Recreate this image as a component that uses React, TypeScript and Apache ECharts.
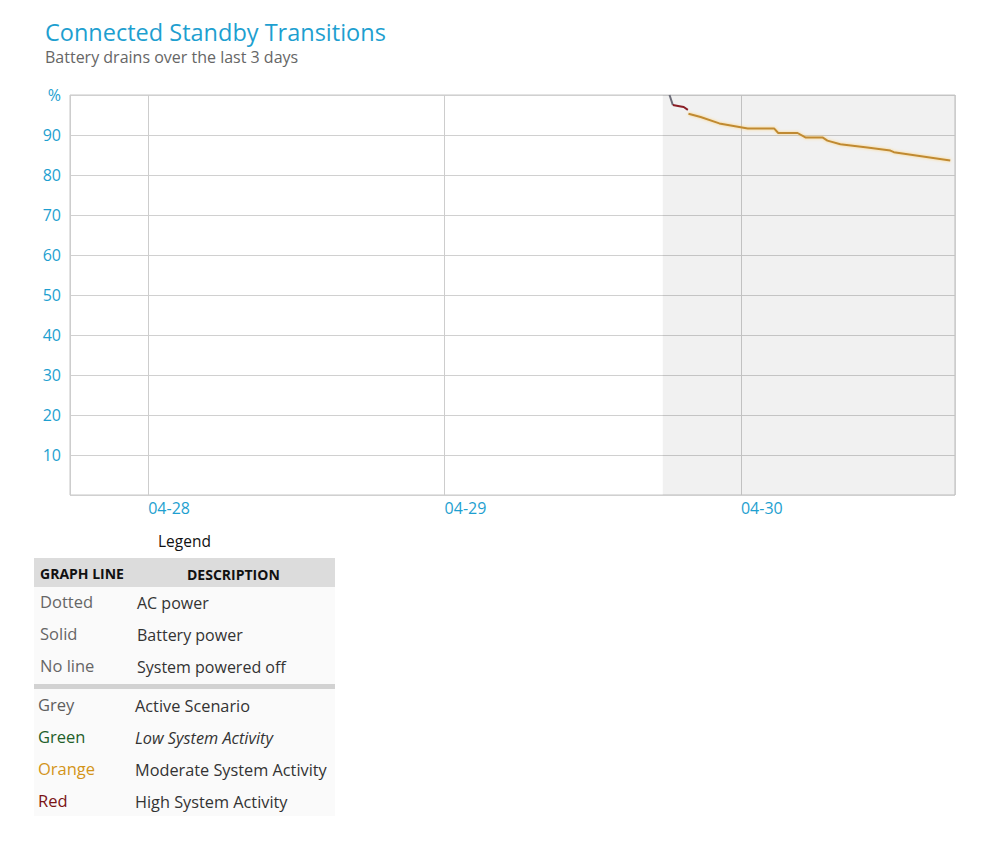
import React, { useEffect, useRef } from "react";
import * as echarts from "echarts";

const TITLE = "Connected Standby Transitions";
const SUBTITLE = "Battery drains over the last 3 days";

const X_MIN = "2014-04-27 17:40";
const X_MAX = "2014-04-30 17:20";
const SHADE_START = "2014-04-29 17:40";

const Y_TICKS = [0, 10, 20, 30, 40, 50, 60, 70, 80, 90, 100];

const greyTimes = ["2014-04-29 18:13", "2014-04-29 18:29"];
const greyValues = [100, 97.5];

const redTimes = ["2014-04-29 18:29", "2014-04-29 19:01", "2014-04-29 19:22", "2014-04-29 19:42"];
const redValues = [97.5, 97.2, 97.0, 96.3];

const orangeTimes = [
  "2014-04-29 19:45", "2014-04-29 20:44", "2014-04-29 22:15", "2014-04-30 00:33",
  "2014-04-30 02:42", "2014-04-30 03:01", "2014-04-30 04:35", "2014-04-30 05:13",
  "2014-04-30 06:36", "2014-04-30 07:00", "2014-04-30 08:03", "2014-04-30 10:14",
  "2014-04-30 12:06", "2014-04-30 12:23", "2014-04-30 16:57",
];
const orangeValues = [95.3, 94.5, 92.9, 91.6, 91.6, 90.5, 90.5, 89.4, 89.4, 88.6, 87.7, 86.9, 86.1, 85.7, 83.6];

const legendHeader = ["GRAPH LINE", "DESCRIPTION"];
const legendLineRows = [
  ["Dotted", "AC power"],
  ["Solid", "Battery power"],
  ["No line", "System powered off"],
];
const legendColorRows = [
  ["Grey", "Active Scenario"],
  ["Green", "Low System Activity"],
  ["Orange", "Moderate System Activity"],
  ["Red", "High System Activity"],
];
const legendColorFills = ["#5e5e5e", "#1f5f2a", "#d39419", "#7a1414"];

const FONT = "'Open Sans', 'Noto Sans', sans-serif";
const BLUE = "#1e9fd0";

function pairs(t: string[], v: number[]) {
  return t.map((x, i) => [x, v[i]]);
}

export default function App() {
  const ref = useRef<HTMLDivElement>(null);
  useEffect(() => {
    document.body.style.margin = "0";
    const chart = echarts.init(ref.current!, null, { renderer: "svg" });
    const DAY = 86400000;

    const graphics: any[] = [
      { type: "text", x: 45, y: 32, style: { text: TITLE, fill: BLUE, font: `23.5px ${FONT}`, verticalAlign: "middle" } },
      { type: "text", x: 45, y: 57, style: { text: SUBTITLE, fill: "#666", font: `16px ${FONT}`, verticalAlign: "middle" } },
      { type: "text", x: 158, y: 541, style: { text: "Legend", fill: "#111", font: `500 15.5px ${FONT}`, verticalAlign: "middle" } },
      { type: "rect", shape: { x: 34, y: 586, width: 301, height: 230 }, style: { fill: "#fafafa" } },
      { type: "rect", shape: { x: 34, y: 558, width: 301, height: 29 }, style: { fill: "#dcdcdc" } },
      { type: "rect", shape: { x: 34, y: 684, width: 301, height: 5 }, style: { fill: "#d2d2d2" } },
      { type: "text", x: 40, y: 573, style: { text: legendHeader[0], fill: "#111", font: `bold 14px ${FONT}`, verticalAlign: "middle" } },
      { type: "text", x: 187, y: 574, style: { text: legendHeader[1], fill: "#111", font: `bold 14px ${FONT}`, verticalAlign: "middle" } },
    ];
    legendLineRows.forEach((r, i) => {
      const y = 601 + i * 32;
      graphics.push({ type: "text", x: 40, y, style: { text: r[0], fill: "#666", font: `16.5px ${FONT}`, verticalAlign: "middle" } });
      graphics.push({ type: "text", x: 137, y: y + 2, style: { text: r[1], fill: "#333", font: `16px ${FONT}`, verticalAlign: "middle" } });
    });
    legendColorRows.forEach((r, i) => {
      const y = 704 + i * 32;
      graphics.push({ type: "text", x: 38, y, style: { text: r[0], fill: legendColorFills[i], font: `16.5px ${FONT}`, verticalAlign: "middle" } });
      graphics.push({
        type: "text", x: 135, y: y + 2,
        style: { text: r[1], fill: "#333", font: `${i === 1 ? "italic " : ""}16.3px ${FONT}`, verticalAlign: "middle" },
      });
    });

    chart.setOption({
      animation: false,
      backgroundColor: "#fff",
      graphic: graphics,
      grid: {
        left: 70, right: 45, top: 95, bottom: 352,
        show: true, borderColor: "#c6c6c6", borderWidth: 1, backgroundColor: "#fff",
      },
      xAxis: {
        type: "time",
        min: X_MIN,
        max: X_MAX,
        minInterval: DAY,
        maxInterval: DAY,
        axisLine: { show: false },
        axisTick: { show: false },
        axisLabel: {
          formatter: "{MM}-{dd}", align: "left", color: BLUE, fontSize: 16, fontFamily: FONT,
          margin: 5, showMinLabel: false, showMaxLabel: false,
        },
        splitLine: { show: true, lineStyle: { color: "#cdcdcd", width: 1 } },
      },
      yAxis: {
        type: "value",
        min: Y_TICKS[0],
        max: Y_TICKS[Y_TICKS.length - 1],
        interval: 10,
        axisLine: { show: false },
        axisTick: { show: false },
        axisLabel: {
          color: BLUE, fontSize: 16, fontFamily: FONT, margin: 9,
          formatter: (v: number) => (v === 100 ? "%" : v === 0 ? "" : String(v)),
        },
        splitLine: { lineStyle: { color: "#d0d0d0" } },
      },
      series: [
        {
          type: "line", name: "Active", data: pairs(greyTimes, greyValues), showSymbol: false,
          lineStyle: { color: "#6c6c78", width: 2 }, z: 3,
        },
        {
          type: "line", name: "High", data: pairs(redTimes, redValues), showSymbol: false,
          lineStyle: { color: "#8a1e26", width: 2 }, z: 3,
        },
        {
          type: "line", name: "Moderate", data: pairs(orangeTimes, orangeValues), showSymbol: false,
          lineStyle: { color: "#c08a30", width: 2, shadowColor: "rgba(255,200,90,0.8)", shadowBlur: 3 }, z: 3,
          markArea: {
            silent: true,
            itemStyle: { color: "rgba(0,0,0,0.055)" },
            data: [[{ xAxis: SHADE_START }, { xAxis: X_MAX }]],
          },
        },
      ],
    });
    return () => chart.dispose();
  }, []);
  return <div ref={ref} style={{ width: 1000, height: 847 }} />;
}
